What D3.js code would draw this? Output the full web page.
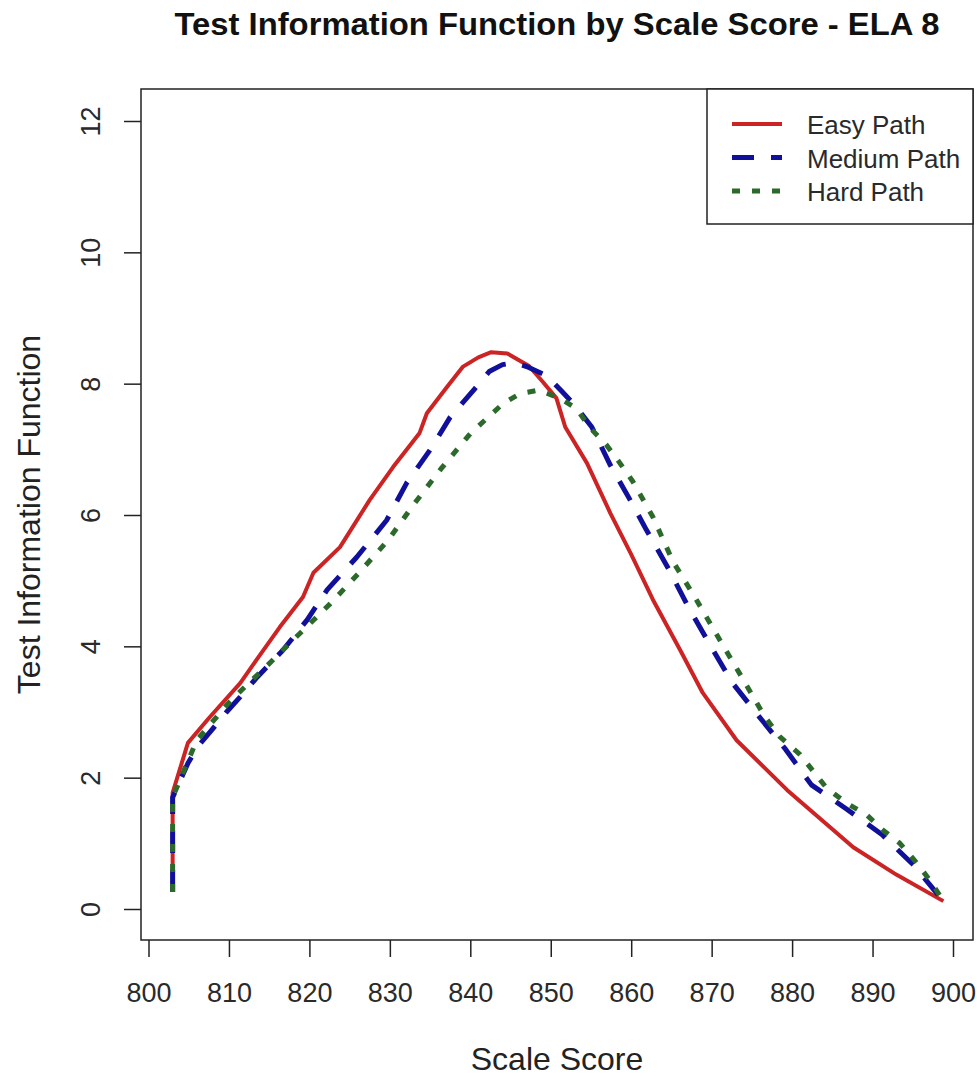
<!DOCTYPE html>
<html>
<head>
<meta charset="utf-8">
<script src="https://cdn.jsdelivr.net/npm/d3@7"></script>
<style>
  body { margin: 0; background: #fff; }
  svg { display: block; font-family: "Liberation Sans", Arial, sans-serif; }
</style>
</head>
<body>
<div id="chart"></div>
<script>
// Values
const easyX = [803, 803, 804.9, 807.6, 811.4, 813.4, 816.3, 819.2, 820.5, 823.8, 827.5, 830.4, 833.7, 834.6, 837.1, 839.1, 841, 842.6, 844.6, 847.3, 849, 850.7, 851.8, 854.5, 857.4, 860, 862.7, 866.1, 868.9, 873.1, 879.4, 887.6, 893, 898.8];
const easyY = [0.26, 1.77, 2.53, 2.92, 3.44, 3.79, 4.29, 4.75, 5.12, 5.51, 6.23, 6.73, 7.25, 7.55, 7.95, 8.26, 8.4, 8.48, 8.46, 8.27, 8.03, 7.78, 7.34, 6.79, 6.03, 5.4, 4.71, 3.94, 3.29, 2.57, 1.81, 0.94, 0.52, 0.12];

const mediumX = [803, 803, 804.9, 806.1, 807.9, 809.7, 811.4, 813.5, 816.7, 819.7, 822.2, 825.9, 829.6, 832.1, 835, 837.5, 840.6, 842.4, 844, 845.5, 847, 849.5, 851.4, 853, 855.1, 857.4, 860, 861.9, 864.6, 867.1, 869.8, 872.6, 875.9, 879.2, 882.4, 886.8, 891.2, 895.1, 898.8];
const mediumY = [0.26, 1.7, 2.22, 2.47, 2.73, 3.0, 3.23, 3.53, 3.94, 4.4, 4.86, 5.36, 5.92, 6.49, 6.99, 7.49, 7.93, 8.19, 8.29, 8.32, 8.26, 8.12, 7.88, 7.67, 7.34, 6.76, 6.2, 5.77, 5.19, 4.6, 4.02, 3.44, 2.93, 2.43, 1.89, 1.52, 1.13, 0.67, 0.12];

const hardX = [803, 803, 804.9, 806, 809.9, 812.2, 814.2, 818, 820.1, 822.6, 826.1, 829.8, 832.9, 836.4, 840, 844.1, 846.2, 848.5, 851.1, 853.2, 854.8, 856.9, 858.6, 860.2, 862.7, 865.2, 868.1, 871, 873.7, 876.6, 878.5, 881, 884.3, 886.8, 889.3, 891.3, 893.4, 895.5, 897.1, 898.8];
const hardY = [0.26, 1.7, 2.25, 2.57, 3.13, 3.41, 3.64, 4.1, 4.35, 4.65, 5.11, 5.62, 6.15, 6.71, 7.24, 7.7, 7.85, 7.9, 7.78, 7.62, 7.34, 7.07, 6.79, 6.51, 5.97, 5.29, 4.71, 4.1, 3.54, 2.93, 2.62, 2.35, 1.84, 1.61, 1.43, 1.2, 1.0, 0.7, 0.44, 0.12];

const seriesNames = ["Easy Path", "Medium Path", "Hard Path"];
const seriesColors = ["#cc2424", "#10109a", "#2c6a2c"];
const seriesDash = [null, "22,17", "8,12"];

const xTicks = [800, 810, 820, 830, 840, 850, 860, 870, 880, 890, 900];
const yTicks = [0, 2, 4, 6, 8, 10, 12];

const width = 977;
const height = 1076;
// plot box (R draws it 4% beyond the data range)
const box = { left: 141, right: 973, top: 89, bottom: 940 };

const svg = d3.select("#chart")
  .append("svg")
  .attr("width", width)
  .attr("height", height);

const x = d3.scaleLinear().domain([800, 900]).range([148.5, 953]);
const y = d3.scaleLinear().domain([0, 12]).range([909, 121]);

// title
svg.append("text")
  .attr("x", (box.left + box.right) / 2)
  .attr("y", 35)
  .attr("text-anchor", "middle")
  .attr("font-size", 31)
  .attr("font-weight", "bold")
  .attr("fill", "#111")
  .attr("textLength", 765)
  .attr("lengthAdjust", "spacingAndGlyphs")
  .text("Test Information Function by Scale Score - ELA 8");

// x axis
const xAxis = svg.append("g")
  .attr("transform", `translate(0,${box.bottom})`)
  .call(d3.axisBottom(x).tickValues(xTicks).tickSize(17).tickFormat(d3.format("d")));
xAxis.select(".domain").remove();
xAxis.selectAll("line").attr("stroke", "#222").attr("stroke-width", 1.5);
xAxis.selectAll("text")
  .attr("y", 62)
  .attr("dy", 0)
  .attr("font-size", 27)
  .attr("font-family", "Liberation Sans, Arial, sans-serif")
  .attr("fill", "#2a2a2a");

// y axis
const yAxis = svg.append("g")
  .attr("transform", `translate(${box.left},0)`)
  .call(d3.axisLeft(y).tickValues(yTicks).tickSize(17));
yAxis.select(".domain").remove();
yAxis.selectAll("line").attr("stroke", "#222").attr("stroke-width", 1.5);
yAxis.selectAll("text")
  .attr("x", 0)
  .attr("dy", 0)
  .attr("transform", "translate(-41,0) rotate(-90)")
  .attr("text-anchor", "middle")
  .attr("font-size", 27)
  .attr("font-family", "Liberation Sans, Arial, sans-serif")
  .attr("fill", "#2a2a2a");

// axis titles
svg.append("text")
  .attr("x", (box.left + box.right) / 2)
  .attr("y", 1070)
  .attr("text-anchor", "middle")
  .attr("font-size", 32)
  .attr("fill", "#222")
  .text("Scale Score");

svg.append("text")
  .attr("transform", `translate(40,${(box.top + box.bottom) / 2}) rotate(-90)`)
  .attr("text-anchor", "middle")
  .attr("font-size", 32)
  .attr("fill", "#222")
  .text("Test Information Function");

// lines
const series = [
  easyX.map((d, i) => [d, easyY[i]]),
  mediumX.map((d, i) => [d, mediumY[i]]),
  hardX.map((d, i) => [d, hardY[i]])
];

const line = d3.line()
  .x(d => x(d[0]))
  .y(d => y(d[1]));

svg.append("g")
  .selectAll("path")
  .data(series)
  .enter()
  .append("path")
  .attr("d", line)
  .attr("fill", "none")
  .attr("stroke", (d, i) => seriesColors[i])
  .attr("stroke-width", (d, i) => (i === 0 ? 4 : 5))
  .attr("stroke-dasharray", (d, i) => seriesDash[i])
  .attr("stroke-linejoin", "round");

// plot box
svg.append("rect")
  .attr("x", box.left)
  .attr("y", box.top)
  .attr("width", box.right - box.left)
  .attr("height", box.bottom - box.top)
  .attr("fill", "none")
  .attr("stroke", "#222")
  .attr("stroke-width", 1.5);

// legend
const legend = svg.append("g");
legend.append("rect")
  .attr("x", 707)
  .attr("y", box.top)
  .attr("width", box.right - 707)
  .attr("height", 135)
  .attr("fill", "#fff")
  .attr("stroke", "#222")
  .attr("stroke-width", 1.5);

const rows = legend.selectAll("g.row")
  .data(seriesNames)
  .enter()
  .append("g")
  .attr("class", "row")
  .attr("transform", (d, i) => `translate(0,${124 + i * 33.5})`);

rows.append("line")
  .attr("x1", 732)
  .attr("x2", 782)
  .attr("stroke", (d, i) => seriesColors[i])
  .attr("stroke-width", (d, i) => (i === 0 ? 4 : 5))
  .attr("stroke-dasharray", (d, i) => seriesDash[i]);

rows.append("text")
  .attr("x", 807)
  .attr("y", 10)
  .attr("font-size", 26)
  .attr("fill", "#2a2a2a")
  .text(d => d);
</script>
</body>
</html>
